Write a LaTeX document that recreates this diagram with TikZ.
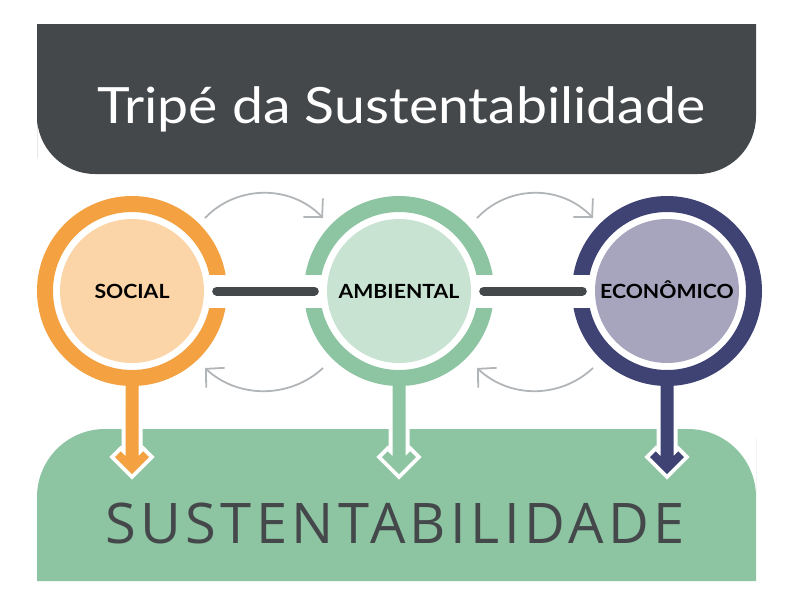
\documentclass[tikz,border=0pt]{standalone}
\usepackage{fontspec}
\setmainfont{Lato}
\newfontfamily\titlefont{Lato}
\newfontfamily\bigfont[LetterSpace=8]{Open Sans}
\usetikzlibrary{arrows.meta}
\definecolor{cDark}{HTML}{44484B}
\definecolor{cOrange}{HTML}{F4A142}
\definecolor{cOrangeL}{HTML}{FBD4A7}
\definecolor{cGreen}{HTML}{8DC4A2}
\definecolor{cGreenL}{HTML}{C8E3D2}
\definecolor{cNavy}{HTML}{3F4373}
\definecolor{cNavyL}{HTML}{A7A4BE}
\definecolor{cArc}{HTML}{B2B5B7}
\newcommand\wideLabel[1]{\scalebox{1.09}[1]{#1}}
\tikzset{
  pillar/.style={circle, minimum size=144pt, inner sep=0pt, text=black,
    font=\bfseries\fontsize{19.5}{20}\selectfont, text height=14pt, text depth=0pt},
  ringline/.style={line width=16pt},
  bar/.style={draw=cDark, line width=9pt, line cap=round, shorten <=12.5pt, shorten >=12.5pt},
  cycarrow/.style={draw=cArc, line width=1.8pt, -{Straight Barb[length=13pt,width=27pt]}},
  headhalo/.style={fill=white, draw=white, line width=8pt, line join=miter}
}
\begin{document}
\begin{tikzpicture}[x=1pt,y=-1pt]
\useasboundingbox (0,0) rectangle (789,606);
% top banner
\fill[cDark] (37,24) -- (756,24) -- (756,100) {[rounded corners=58pt] -- (756,174) -- (37,174) -- (37,100)} -- cycle;
\node[text=white, font=\titlefont\fontsize{50}{60}\selectfont, anchor=base] (title) at (401.5,123) {\scalebox{1.108}[1]{Tripé da Sustentabilidade}};
% bottom banner
\fill[cGreen] (37,581) -- (37,505) {[rounded corners=68pt] -- (37,429) -- (756,429) -- (756,505)} -- (756,581) -- cycle;
\node[text=cDark, font=\bigfont\fontsize{56}{60}\selectfont, anchor=base] (sust) at (395,543) {SUSTENTABILIDADE};
% down arrows
\foreach \cx/\col in {132/cOrange, 399/cGreen, 667/cNavy} {
  \filldraw[headhalo] (\cx-6.5,415) -- (\cx-6.5,456.1) -- (\cx-11.3,451.3) -- (\cx-17,457) -- (\cx,474)
     -- (\cx+17,457) -- (\cx+11.3,451.3) -- (\cx+6.5,456.1) -- (\cx+6.5,415) -- cycle;
  \fill[\col] (\cx-6.5,380) -- (\cx-6.5,456.1) -- (\cx-11.3,451.3) -- (\cx-17,457) -- (\cx,474)
     -- (\cx+17,457) -- (\cx+11.3,451.3) -- (\cx+6.5,456.1) -- (\cx+6.5,380) -- cycle;
}
% pillars
\node[pillar, fill=cOrangeL] (social) at (132,291) {\wideLabel{SOCIAL}};
\node[pillar, fill=cGreenL] (ambiental) at (399,291) {\wideLabel{AMBIENTAL}};
\node[pillar, fill=cNavyL] (economico) at (667,291) {\wideLabel{ECONÔMICO}};
\draw[ringline, cOrange] (social.center) circle (87pt);
\draw[ringline, cGreen] (ambiental.center) circle (87pt);
\draw[ringline, cNavy] (economico.center) circle (87pt);
% ring gaps
\fill[white] (132+74,274.5) rectangle (132+100,307.5);
\fill[white] (399-100,274.5) rectangle (399-74,307.5);
\fill[white] (399+74,274.5) rectangle (399+100,307.5);
\fill[white] (667-100,274.5) rectangle (667-74,307.5);
% connecting bars
\draw[bar] (social) -- (ambiental);
\draw[bar] (ambiental) -- (economico);
% cycle arrows
\coordinate (a1s) at (205,218); \coordinate (a1e) at (323,218);
\coordinate (b1s) at (323,368); \coordinate (b1e) at (205,368);
\coordinate (a2s) at (477,218); \coordinate (a2e) at (593,218);
\coordinate (b2s) at (593,368); \coordinate (b2e) at (477,368);
\draw[cycarrow] (a1s) .. controls (237,184.6) and (291,184.6) .. (a1e);
\draw[cycarrow] (b1s) .. controls (290,398.7) and (238,398.7) .. (b1e);
\draw[cycarrow] (a2s) .. controls (509,184.6) and (561,184.6) .. (a2e);
\draw[cycarrow] (b2s) .. controls (560,398.7) and (510,398.7) .. (b2e);
\end{tikzpicture}
\end{document}
